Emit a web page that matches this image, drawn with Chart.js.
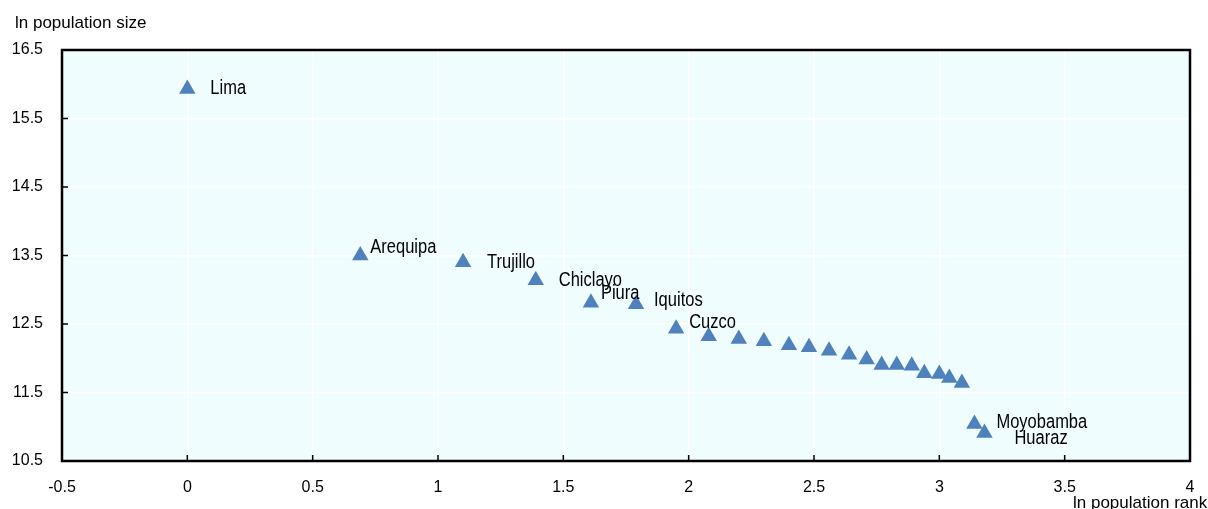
<!DOCTYPE html>
<html lang="en">
<head>
    <meta charset="UTF-8">
    <title>Rank-size rule, Peru</title>
    <script src="https://cdn.jsdelivr.net/npm/chart.js@4.4.0/dist/chart.umd.min.js"></script>
    <style>
        * { margin: 0; padding: 0; box-sizing: border-box; }
        body { background: #ffffff; width: 1208px; height: 509px; overflow: hidden; }
        .chart-box { position: relative; width: 1208px; height: 509px; }
    </style>
</head>
<body>
    <div class="chart-box">
        <canvas id="rankChart" width="1208" height="509"></canvas>
    </div>

    <script>
        // City names (empty = unlabelled point)
        const cityNames = [
            'Lima', 'Arequipa', 'Trujillo', 'Chiclayo', 'Piura', 'Iquitos', 'Cuzco',
            '', '', '', '', '', '', '', '', '', '', '', '', '', '', '',
            'Moyobamba', 'Huaraz'
        ];
        // ln population rank
        const lnRank = [
            0, 0.69, 1.10, 1.39, 1.61, 1.79, 1.95,
            2.08, 2.20, 2.30, 2.40, 2.48, 2.56, 2.64, 2.71, 2.77, 2.83, 2.89, 2.94, 3.00, 3.04, 3.09,
            3.14, 3.18
        ];
        // ln population size
        const lnSize = [
            15.93, 13.50, 13.40, 13.14, 12.81, 12.79, 12.43,
            12.32, 12.28, 12.25, 12.19, 12.16, 12.11, 12.05, 11.98, 11.90, 11.90, 11.89, 11.78, 11.77, 11.71, 11.64,
            11.04, 10.91
        ];
        const xTicks = [-0.5, 0, 0.5, 1, 1.5, 2, 2.5, 3, 3.5, 4];
        const yTicks = [10.5, 11.5, 12.5, 13.5, 14.5, 15.5, 16.5];

        // label offsets in px from the marker (style only)
        const labelOffsets = {
            'Lima': [23, -1], 'Arequipa': [10, -8], 'Trujillo': [24, 0], 'Chiclayo': [23, 0],
            'Piura': [10, -9], 'Iquitos': [18, -4], 'Cuzco': [13, -6],
            'Moyobamba': [22, -1], 'Huaraz': [30, 6]
        };

        const FONT = "'Liberation Sans', Arial, sans-serif";
        const PLOT_BG = '#effdff';

        const points = lnRank.map((x, i) => ({ x: x, y: lnSize[i] }));

        const framePlugin = {
            id: 'frame',
            beforeDraw(chart) {
                const a = chart.chartArea;
                const ctx = chart.ctx;
                ctx.save();
                ctx.fillStyle = PLOT_BG;
                ctx.fillRect(a.left, a.top, a.right - a.left, a.bottom - a.top);
                ctx.restore();
            },
            afterDatasetsDraw(chart) {
                const a = chart.chartArea;
                const ctx = chart.ctx;
                const xs = chart.scales.x, ys = chart.scales.y;
                ctx.save();
                // inward tick marks
                ctx.strokeStyle = '#000';
                ctx.lineWidth = 1.5;
                ctx.beginPath();
                xTicks.forEach(v => {
                    const px = xs.getPixelForValue(v);
                    ctx.moveTo(px, a.bottom);
                    ctx.lineTo(px, a.bottom - 6);
                });
                yTicks.forEach(v => {
                    const py = ys.getPixelForValue(v);
                    ctx.moveTo(a.left, py);
                    ctx.lineTo(a.left + 6, py);
                });
                ctx.stroke();
                // box
                ctx.lineWidth = 2.5;
                ctx.strokeRect(a.left, a.top, a.right - a.left, a.bottom - a.top);

                // city labels (slightly tall lettering, as in the original)
                ctx.fillStyle = '#000';
                ctx.textAlign = 'left';
                ctx.textBaseline = 'middle';
                ctx.font = '16.5px ' + FONT;
                cityNames.forEach((name, i) => {
                    if (!name) return;
                    const off = labelOffsets[name] || [10, 0];
                    const px = xs.getPixelForValue(lnRank[i]);
                    const py = ys.getPixelForValue(lnSize[i]);
                    ctx.save();
                    ctx.translate(px + off[0], py + off[1]);
                    ctx.scale(1, 1.2);
                    ctx.fillText(name, 0, 0);
                    ctx.restore();
                });

                // axis titles
                ctx.font = '17px ' + FONT;
                ctx.fillText('ln population size', 15, 23);
                ctx.fillText('ln population rank', 1073, 503);
                ctx.restore();
            }
        };

        const ctx = document.getElementById('rankChart').getContext('2d');
        new Chart(ctx, {
            type: 'scatter',
            data: {
                datasets: [{
                    label: 'Cities',
                    data: points,
                    pointStyle: 'triangle',
                    pointRadius: 9.5,
                    pointHoverRadius: 9.5,
                    backgroundColor: '#4f81bd',
                    borderColor: '#4f81bd',
                    borderWidth: 0
                }]
            },
            options: {
                responsive: false,
                animation: false,
                devicePixelRatio: 1,
                layout: { padding: { top: 50, right: 18, left: 0, bottom: 0 } },
                plugins: {
                    legend: { display: false },
                    tooltip: { enabled: false }
                },
                scales: {
                    x: {
                        type: 'linear',
                        min: -0.5,
                        max: 4,
                        afterFit(scale) {
                            scale.height = 48;
                            scale.paddingLeft = 0;
                            scale.paddingRight = 0;
                        },
                        afterBuildTicks(scale) { scale.ticks = xTicks.map(v => ({ value: v })); },
                        grid: { color: '#ffffff', lineWidth: 1.5, drawTicks: false },
                        border: { display: false },
                        ticks: {
                            padding: 17,
                            color: '#000',
                            font: { family: FONT, size: 16 },
                            maxRotation: 0,
                            autoSkip: false,
                            callback: v => String(v)
                        }
                    },
                    y: {
                        type: 'linear',
                        min: 10.5,
                        max: 16.5,
                        afterFit(scale) {
                            scale.width = 62;
                            scale.paddingTop = 0;
                            scale.paddingBottom = 0;
                        },
                        afterBuildTicks(scale) { scale.ticks = yTicks.map(v => ({ value: v })); },
                        grid: { color: '#ffffff', lineWidth: 1.5, drawTicks: false },
                        border: { display: false },
                        ticks: {
                            padding: 19,
                            color: '#000',
                            font: { family: FONT, size: 16 },
                            autoSkip: false,
                            callback: v => String(v)
                        }
                    }
                }
            },
            plugins: [framePlugin]
        });
    </script>
</body>
</html>
